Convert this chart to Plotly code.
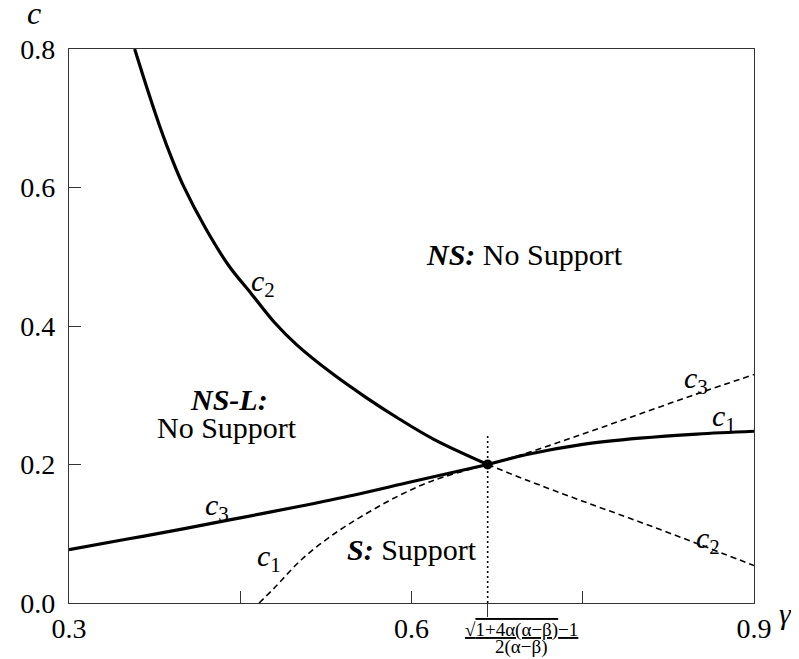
import plotly.graph_objects as go

# ---------------- data ----------------
gamma_crit = 0.6667
c_crit = 0.2

# c2 : solid (left of critical point), dashed (right)
c2_solid_x = [0.3575, 0.37, 0.38, 0.39, 0.40, 0.42, 0.44, 0.46, 0.48, 0.50,
              0.53, 0.56, 0.59, 0.62, 0.6667]
c2_solid_y = [0.800, 0.735, 0.686, 0.642, 0.603, 0.540, 0.487, 0.446, 0.405, 0.372,
              0.332, 0.297, 0.265, 0.236, 0.200]
c2_dash_x = [0.6667, 0.7, 0.75, 0.8, 0.85, 0.9]
c2_dash_y = [0.2, 0.178, 0.147, 0.117, 0.086, 0.054]

# c3 : solid (left), dashed (right)
c3_solid_x = [0.3, 0.35, 0.4, 0.45, 0.5, 0.55, 0.6, 0.6667]
c3_solid_y = [0.077, 0.092, 0.107, 0.123, 0.139, 0.156, 0.175, 0.2]
c3_dash_x = [0.6667, 0.7, 0.75, 0.8, 0.85, 0.9]
c3_dash_y = [0.2, 0.216, 0.244, 0.273, 0.302, 0.33]

# c1 : dashed (left), solid (right)
c1_dash_x = [0.4665, 0.48, 0.5035, 0.5324, 0.5613, 0.5902, 0.6191, 0.6667]
c1_dash_y = [0.0, 0.022, 0.0625, 0.100, 0.130, 0.156, 0.177, 0.2]
c1_solid_x = [0.6667, 0.7, 0.75, 0.8, 0.85, 0.9]
c1_solid_y = [0.2, 0.214, 0.229, 0.238, 0.244, 0.248]

# vertical guide at the critical gamma
guide_x = [0.6667, 0.6667]
guide_y = [0.0, 0.245]

x_tickvals = [0.3, 0.45, 0.6, 0.75, 0.9]
x_ticktext = ["0.3", "", "0.6", "", "0.9"]
y_tickvals = [0.0, 0.2, 0.4, 0.6, 0.8]
y_ticktext = ["0.0", "0.2", "0.4", "0.6", "0.8"]

FONT = "Liberation Serif"
BLACK = "black"
NBSP = "\u00a0"

fig = go.Figure()

def add_line(x, y, dash, width):
    fig.add_trace(go.Scatter(x=x, y=y, mode="lines",
                             line=dict(color=BLACK, width=width, dash=dash,
                                       shape="spline", smoothing=1.0),
                             showlegend=False, hoverinfo="skip"))

add_line(c2_dash_x, c2_dash_y, "6px,4px", 1.6)
add_line(c3_dash_x, c3_dash_y, "6px,4px", 1.6)
add_line(c1_dash_x, c1_dash_y, "6px,4px", 1.6)
add_line(c2_solid_x, c2_solid_y, "solid", 3.2)
add_line(c3_solid_x, c3_solid_y, "solid", 3.2)
add_line(c1_solid_x, c1_solid_y, "solid", 3.2)

fig.add_trace(go.Scatter(x=guide_x, y=guide_y, mode="lines",
                         line=dict(color=BLACK, width=1.6, dash="2px,3px"),
                         showlegend=False, hoverinfo="skip"))
fig.add_trace(go.Scatter(x=[gamma_crit], y=[c_crit], mode="markers",
                         marker=dict(color=BLACK, size=10),
                         showlegend=False, hoverinfo="skip"))

ann = []

def text(x, y, s, size=28):
    ann.append(dict(x=x, y=y, xref="x", yref="y", text=s, showarrow=False,
                    font=dict(family=FONT, size=size, color=BLACK)))

# region labels
text(0.6989, 0.503, "<b><i>NS:</i></b> No Support", size=30)
text(0.4405, 0.2936, "<b><i>NS-L:</i></b>", size=30)
text(0.4387, 0.253, "No Support", size=30)
text(0.6003, 0.077, "<b><i>S:</i></b> Support", size=30)

# curve labels
text(0.470, 0.4625, "<i>c</i><sub>2</sub>", size=30)
text(0.430, 0.139, "<i>c</i><sub>3</sub>", size=30)
text(0.4751, 0.0654, "<i>c</i><sub>1</sub>", size=30)
text(0.8489, 0.3224, "<i>c</i><sub>3</sub>", size=30)
text(0.874, 0.2676, "<i>c</i><sub>1</sub>", size=30)
text(0.8593, 0.0914, "<i>c</i><sub>2</sub>", size=30)

# critical gamma tick label (fraction)
ann.append(dict(x=gamma_crit, y=0, xref="x", yref="paper", xanchor="center",
                yanchor="middle", xshift=34, yshift=-27, showarrow=False,
                text="<u>√<span style='text-decoration:overline'>1+4α(α−β)</span>−1</u>",
                font=dict(family=FONT, size=19, color=BLACK)))
ann.append(dict(x=gamma_crit, y=0, xref="x", yref="paper", xanchor="center",
                yanchor="middle", xshift=34, yshift=-44, showarrow=False,
                text="2(α−β)", font=dict(family=FONT, size=19, color=BLACK)))

# axis titles
ann.append(dict(x=0, y=1, xref="paper", yref="paper", xanchor="center",
                yanchor="middle", xshift=-35, yshift=36, showarrow=False,
                text="<i>c</i>", font=dict(family=FONT, size=32, color=BLACK)))
ann.append(dict(x=1, y=0, xref="paper", yref="paper", xanchor="center",
                yanchor="middle", xshift=31, yshift=-10, showarrow=False,
                text="<i>γ</i>", font=dict(family=FONT, size=30, color=BLACK)))

axis_common = dict(showgrid=False, zeroline=False, showline=True, mirror=True,
                   linecolor="#333", linewidth=1.3, ticks="inside", ticklen=12,
                   tickwidth=1.3, tickcolor="#333",
                   tickfont=dict(family=FONT, size=28, color=BLACK))

fig.update_layout(
    width=791, height=651,
    margin=dict(l=54, r=45, t=41, b=56),
    paper_bgcolor="white", plot_bgcolor="white",
    annotations=ann,
    xaxis=dict(range=[0.3, 0.9], tickmode="array", tickvals=x_tickvals,
               ticktext=x_ticktext,
               minor=dict(tickmode="array", tickvals=[gamma_crit], ticks="outside",
                          ticklen=13, tickwidth=1.3, tickcolor="#333", showgrid=False),
               **axis_common),
    yaxis=dict(range=[0.0, 0.8], tickmode="array", tickvals=y_tickvals,
               ticktext=[t + NBSP for t in y_ticktext], **axis_common),
)

fig.write_html("out.html")
